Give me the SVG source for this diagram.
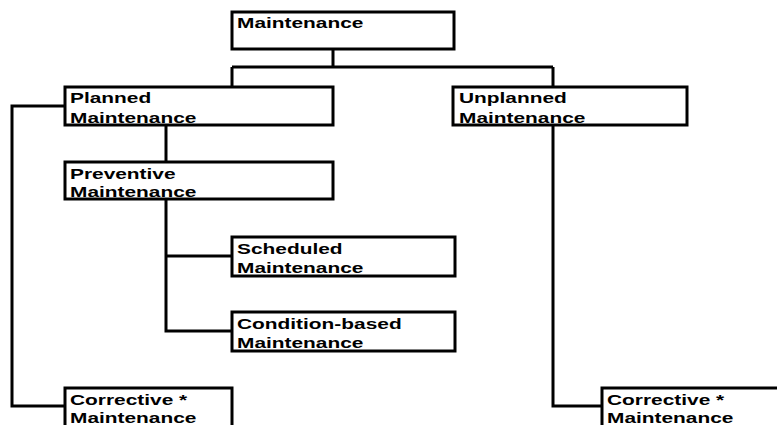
<svg xmlns="http://www.w3.org/2000/svg" width="777" height="425" viewBox="0 0 777 425">
<style>
.box{fill:#fff;stroke:#000;stroke-width:3}
.con{fill:none;stroke:#000;stroke-width:3}
text{font-family:"Liberation Sans",Arial,sans-serif;font-weight:bold;font-size:14.5px;fill:#000}
</style>
<rect width="777" height="425" fill="#fff"/>
<g id="connectors">
<path class="con" d="M333,49 V67 M232,67 H553 M232,67 V87 M553,67 V87"/>
<path class="con" d="M65,106 H12 V406 H65"/>
<path class="con" d="M166,125 V162"/>
<path class="con" d="M166,199 V331 H232 M166,256 H232"/>
<path class="con" d="M553,125 V406 H602"/>
</g>
<g id="maintenance">
<rect class="box" x="232" y="12" width="222" height="37"/>
<text transform="translate(237,28) scale(1.44,1)">Maintenance</text>
</g>
<g id="planned">
<rect class="box" x="65" y="87" width="268" height="38"/>
<text transform="translate(70,103) scale(1.44,1)">Planned</text>
<text transform="translate(70,123) scale(1.44,1)">Maintenance</text>
</g>
<g id="unplanned">
<rect class="box" x="453" y="87" width="234" height="38"/>
<text transform="translate(459,103) scale(1.44,1)">Unplanned</text>
<text transform="translate(459,123) scale(1.44,1)">Maintenance</text>
</g>
<g id="preventive">
<rect class="box" x="65" y="162" width="268" height="37"/>
<text transform="translate(70,179) scale(1.44,1)">Preventive</text>
<text transform="translate(70,197) scale(1.44,1)">Maintenance</text>
</g>
<g id="scheduled">
<rect class="box" x="232" y="237" width="223" height="39"/>
<text transform="translate(237,254) scale(1.44,1)">Scheduled</text>
<text transform="translate(237,273) scale(1.44,1)">Maintenance</text>
</g>
<g id="condition">
<rect class="box" x="232" y="312" width="223" height="39"/>
<text transform="translate(237,329) scale(1.44,1)">Condition-based</text>
<text transform="translate(237,348) scale(1.44,1)">Maintenance</text>
</g>
<g id="corrective-left">
<rect class="box" x="65" y="388" width="167" height="40"/>
<text transform="translate(70,405) scale(1.44,1)">Corrective *</text>
<text transform="translate(70,423) scale(1.44,1)">Maintenance</text>
</g>
<g id="corrective-right">
<rect class="box" x="602" y="388" width="180" height="40"/>
<text transform="translate(607,405) scale(1.44,1)">Corrective *</text>
<text transform="translate(607,423) scale(1.44,1)">Maintenance</text>
</g>
</svg>
